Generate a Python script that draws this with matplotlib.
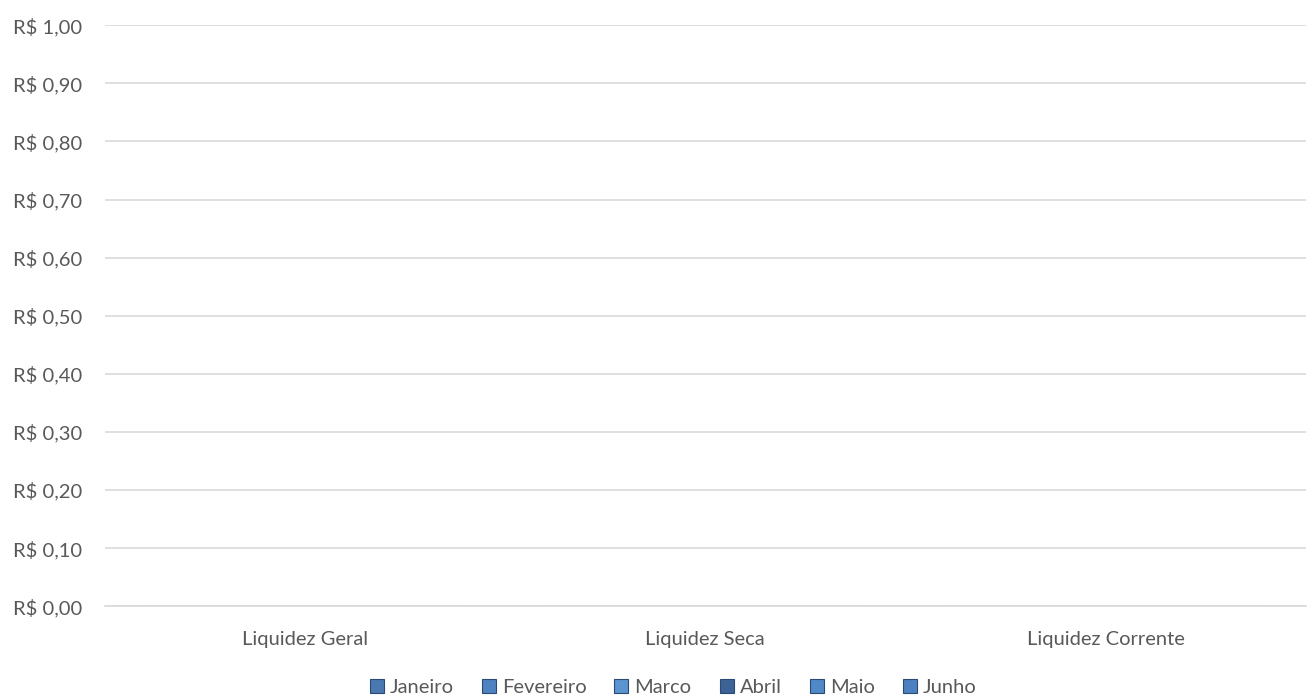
import matplotlib
matplotlib.use("Agg")
import matplotlib.pyplot as plt
import numpy as np

categories = ["Liquidez Geral", "Liquidez Seca", "Liquidez Corrente"]
months = ["Janeiro", "Fevereiro", "Marco", "Abril", "Maio", "Junho"]
values = {
    "Janeiro": [0, 0, 0],
    "Fevereiro": [0, 0, 0],
    "Marco": [0, 0, 0],
    "Abril": [0, 0, 0],
    "Maio": [0, 0, 0],
    "Junho": [0, 0, 0],
}
colors = ["#4a78b0", "#4f82c0", "#5b95d0", "#3d6396", "#5088c8", "#4d80c0"]
yticks = np.arange(0, 1.01, 0.1)

plt.rcParams["font.family"] = ["Lato", "DejaVu Sans"]
text_color = "#595959"
fs = 14.5

fig = plt.figure(figsize=(13.07, 7), dpi=100)
ax = fig.add_axes([0.080, 0.134, 0.919, 0.830])

x = np.arange(len(categories))
width = 0.8 / len(months)
for i, m in enumerate(months):
    ax.bar(x - 0.4 + width * (i + 0.5), values[m], width, color=colors[i],
           edgecolor="#2a4a75", linewidth=0.8, label=m)

ax.set_xlim(-0.5, len(categories) - 0.5)
ax.set_ylim(0, 1.0)
ax.set_yticks(yticks)
ax.set_yticklabels(["R$ " + f"{v:.2f}".replace(".", ",") for v in yticks])
ax.set_xticks(x)
ax.set_xticklabels(categories)
ax.tick_params(axis="both", length=0, colors=text_color, labelsize=fs)
ax.tick_params(axis="x", pad=18)
ax.tick_params(axis="y", pad=16)
ax.grid(axis="y", color="#d9d9d9", linewidth=1.2)
ax.set_axisbelow(True)
for s in ["top", "right", "left"]:
    ax.spines[s].set_visible(False)
ax.spines["bottom"].set_color("#d9d9d9")
ax.spines["bottom"].set_linewidth(1.2)

handles = [plt.Line2D([], [], marker="s", linestyle="", markersize=9.5,
                      markerfacecolor=colors[i], markeredgecolor="#2a4a75",
                      markeredgewidth=0.8) for i in range(len(months))]


def make_legend(cs):
    lg = fig.legend(handles, months, loc="center", bbox_to_anchor=(673 / 1307, 13 / 700),
                    ncol=len(months), frameon=False, fontsize=fs, borderpad=0,
                    handletextpad=0.3, columnspacing=cs, handlelength=0.7)
    for t in lg.get_texts():
        t.set_color(text_color)
    return lg


# fit legend width to about 607 px like the reference
cs = 1.35
leg = make_legend(cs)
fig.canvas.draw()
w = leg.get_window_extent().width
leg.remove()
cs = cs + (607 - w) / 5 / (fs * 100 / 72)
leg = make_legend(max(cs, 0.5))

fig.savefig("out.png", dpi=100)
